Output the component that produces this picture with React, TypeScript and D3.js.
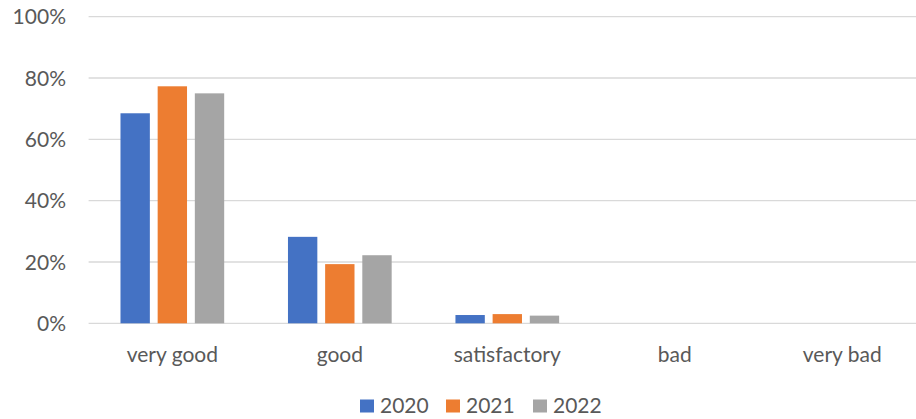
import React from "react";
import * as d3 from "d3";

const categories = ["very good", "good", "satisfactory", "bad", "very bad"];
const seriesNames = ["2020", "2021", "2022"];
const values2020 = [68.5, 28.2, 2.7, 0, 0];
const values2021 = [77.3, 19.3, 3.0, 0, 0];
const values2022 = [75.0, 22.2, 2.5, 0, 0];
const yTicks = [0, 20, 40, 60, 80, 100];
const colors = ["#4472C4", "#ED7D31", "#A5A5A5"];

const W = 916;
const H = 419;
const FONT = "Lato, 'Open Sans', sans-serif";
const FS = 21;

export default function App() {
  const series = [values2020, values2021, values2022];
  const x0 = d3.scaleBand().domain(categories).range([88.6, 926]).paddingInner(0).paddingOuter(0);
  const y = d3.scaleLinear().domain([0, 100]).range([323.3, 16.7]);
  const groupW = 103.7;
  const x1 = d3.scaleBand().domain(seriesNames).range([0, groupW]).paddingInner(0.21).paddingOuter(0);

  const legendX = [360, 446, 533];

  return (
    <div style={{ position: "absolute", left: 0, top: 0 }}>
      <svg width={W} height={H} style={{ display: "block", background: "#fff" }}>
        {yTicks.map((t) => (
          <g key={t}>
            <line x1={88.6} x2={926} y1={y(t)} y2={y(t)} stroke="#D9D9D9" strokeWidth={1.3} />
            <text x={66} y={y(t)} dy="0.36em" textAnchor="end" fontFamily={FONT} fontSize={FS} fill="#595959">
              {t}%
            </text>
          </g>
        ))}
        {categories.map((c, ci) => {
          const gx = (x0(c) as number) + (x0.bandwidth() - groupW) / 2;
          return (
            <g key={c}>
              {series.map((vals, si) => {
                const v = vals[ci];
                if (v <= 0) return null;
                const bx = gx + (x1(seriesNames[si]) as number);
                return (
                  <rect
                    key={si}
                    x={bx}
                    y={y(v)}
                    width={x1.bandwidth()}
                    height={y(0) - y(v)}
                    fill={colors[si]}
                  />
                );
              })}
              <text
                x={(x0(c) as number) + x0.bandwidth() / 2}
                y={361.5}
                textAnchor="middle"
                fontFamily={FONT}
                fontSize={FS}
                fill="#595959"
              >
                {c}
              </text>
            </g>
          );
        })}
        {seriesNames.map((s, i) => (
          <g key={s}>
            <rect x={legendX[i]} y={399.5} width={14} height={13} fill={colors[i]} />
            <text x={legendX[i] + 20} y={412.5} fontFamily={FONT} fontSize={FS} fill="#595959">
              {s}
            </text>
          </g>
        ))}
      </svg>
    </div>
  );
}
